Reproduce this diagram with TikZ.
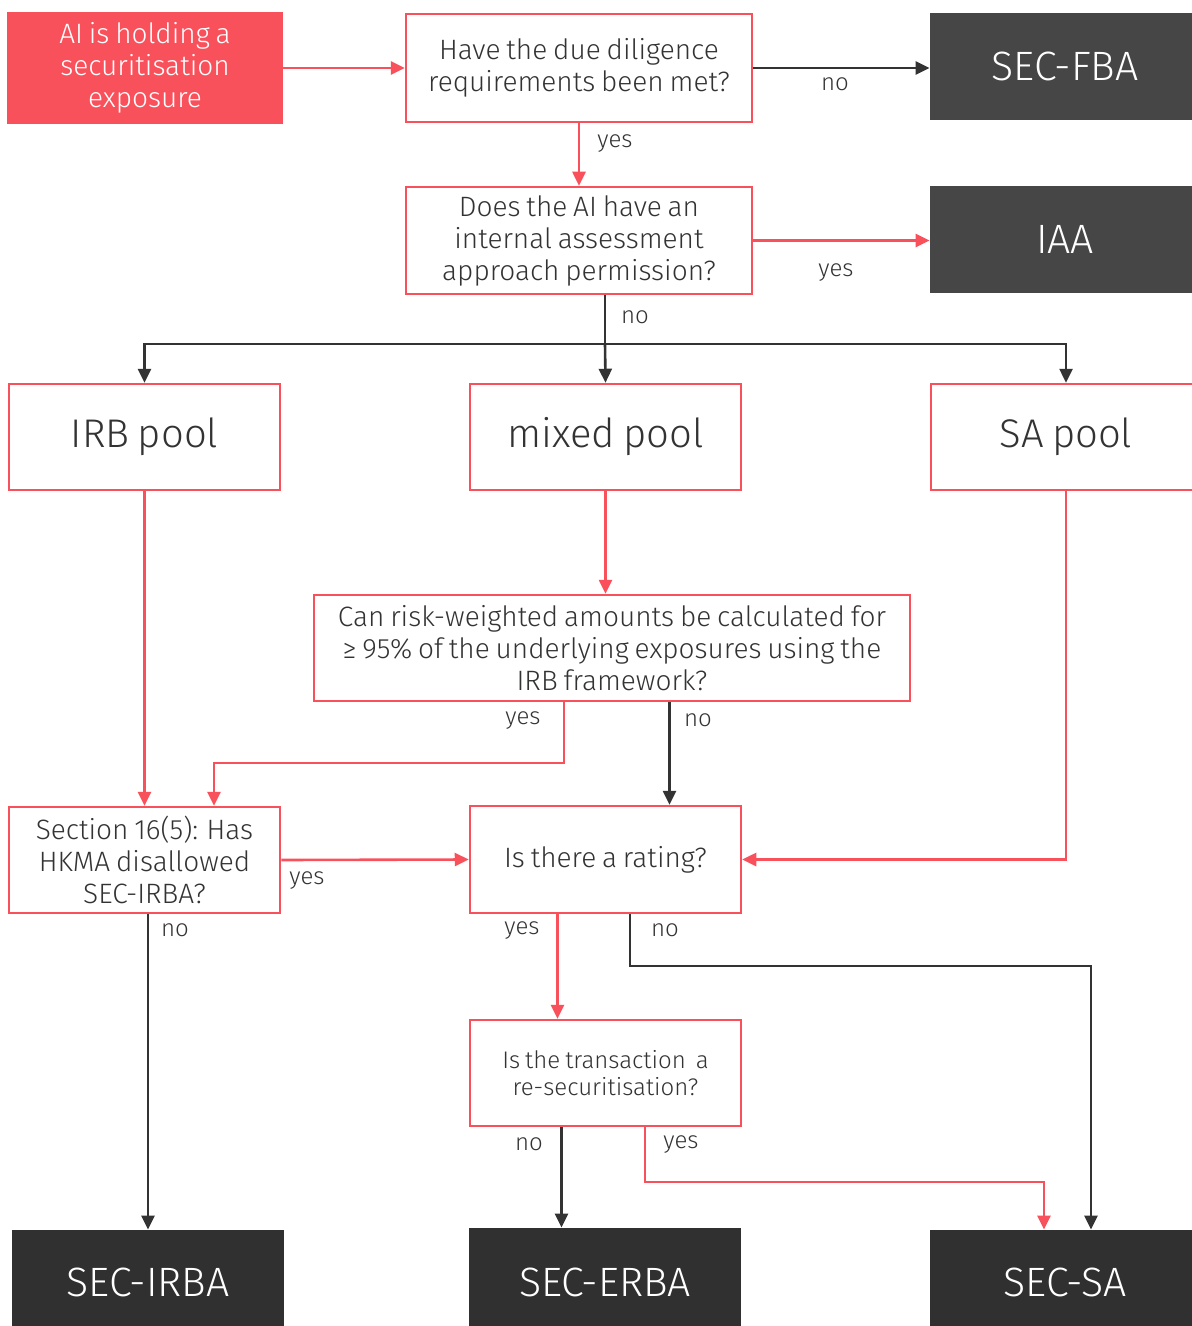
\documentclass[tikz,border=0pt]{standalone}
\usepackage{fontspec}
\setmainfont{Fira Sans}[UprightFont=* Light, WordSpace=0.75]
\usepackage{tikz}
\usetikzlibrary{arrows.meta}
\definecolor{hkred}{HTML}{F9515B}
\definecolor{topgrey}{HTML}{464646}
\definecolor{botgrey}{HTML}{303030}
\definecolor{txtgrey}{HTML}{333333}

\begin{document}
\begin{tikzpicture}[x=0.5pt,y=-0.5pt,
  qbox/.style={draw=hkred, line width=1.25pt, fill=white, text=txtgrey, align=center,
    inner sep=0pt, font=\fontsize{14}{16}\selectfont},
  poolbox/.style={qbox, font=\fontsize{20}{24}\selectfont},
  endbox/.style={fill=#1, text=white, align=center, inner sep=0pt,
    font=\fontsize{20.5}{24}\selectfont},
  lbl/.style={text=txtgrey, font=\fontsize{12}{14}\selectfont, inner sep=0pt},
  redline/.style={draw=hkred, line width=1.3pt, -{Triangle[length=7pt,width=6.5pt]}},
  blackline/.style={draw=txtgrey, line width=1.3pt, -{Triangle[length=7pt,width=6.5pt]}},
  plainblack/.style={draw=txtgrey, line width=1.3pt}]
\useasboundingbox (0,0) rectangle (1192,1326);

% Top row
\node[fill=hkred, text=white, align=center, inner sep=0pt, minimum width=138pt, minimum height=56pt,
  font=\fontsize{14}{16}\selectfont] (start) at (145,68) {AI is holding a\\securitisation\\exposure};
\node[qbox, minimum width=173pt, minimum height=54pt] (diligence) at (579,68)
  {Have the due diligence\\requirements been met?};
\node[endbox=topgrey, minimum width=135pt, minimum height=53.5pt] (secfba) at (1065,66.5) {SEC-FBA};

% IAA question
\node[qbox, minimum width=173pt, minimum height=53.5pt] (iaaperm) at (579,240.5)
  {Does the AI have an\\internal assessment\\approach permission?};
\node[endbox=topgrey, minimum width=135pt, minimum height=53.5pt] (iaa) at (1065,239.5) {IAA};

% Pools
\node[poolbox, minimum width=135.5pt, minimum height=53pt] (irbpool) at (144.5,437) {IRB pool};
\node[poolbox, minimum width=135.5pt, minimum height=53pt] (mixedpool) at (605.5,437) {mixed pool};
\node[poolbox, minimum width=135pt, minimum height=53pt] (sapool) at (1066,437) {SA pool};

% Mixed pool question
\node[qbox, minimum width=298pt, minimum height=53pt] (irbcalc) at (612,648)
  {Can risk-weighted amounts be calculated for\\≥ 95\% of the underlying exposures using the\\IRB framework?};

% Middle row
\node[qbox, minimum width=135.5pt, minimum height=53pt] (section) at (144.5,860)
  {Section 16(5): Has\\HKMA disallowed\\SEC-IRBA?};
\node[qbox, minimum width=135.5pt, minimum height=53.5pt] (rating) at (605.5,859.5) {Is there a rating?};
\node[qbox, minimum width=135.5pt, minimum height=53pt, font=\fontsize{12}{13.5}\selectfont] (resec) at (605.5,1073)
  {Is the transaction~ a\\re-securitisation?};

% Results
\node[endbox=botgrey, minimum width=136pt, minimum height=52pt] (secirba) at (148,1282) {SEC-IRBA};
\node[endbox=botgrey, minimum width=136pt, minimum height=54pt] (secerba) at (605,1282) {SEC-ERBA};
\node[endbox=botgrey, minimum width=135pt, minimum height=52pt] (secsa) at (1065,1282) {SEC-SA};

% Connectors
\coordinate (split) at (605,344);
\coordinate (yesbend) at (564,763);
\coordinate (nobend) at (630,966);
\coordinate (resecbend) at (645,1182);

\draw[redline] (start.east) -- (diligence.west);
\draw[blackline] (diligence.east) -- (diligence.east -| secfba.west);
\draw[redline] (diligence.south) -- (iaaperm.north);
\draw[redline] (iaaperm.east) -- (iaaperm.east -| iaa.west);

\draw[plainblack] (iaaperm.south -| split) -- (split);
\draw[blackline] (split) -- (mixedpool.north);
\draw[blackline] (split) -| (irbpool.north);
\draw[blackline] (split) -| (sapool.north);

\draw[redline] (mixedpool.south) -- (mixedpool.south |- irbcalc.north);
\draw[redline] (irbpool.south) -- (section.north -| irbpool.south);
\draw[redline] (irbcalc.south -| yesbend) -- (yesbend) -| ([xshift=34.75pt]section.north);
\draw[blackline] ([xshift=32pt]rating.north |- irbcalc.south) -- ([xshift=32pt]rating.north);
\draw[redline] (section.east) -- (rating.west);
\draw[redline] (sapool.south) |- (rating.east);

\draw[blackline] (section.south -| secirba.north) -- (secirba.north);
\draw[redline] ([xshift=-24pt]rating.south) -- ([xshift=-24pt]rating.south |- resec.north);
\draw[blackline] (rating.south -| nobend) -- (nobend) -| ([xshift=13pt]secsa.north);
\draw[blackline] ([xshift=-22pt]resec.south) -- ([xshift=-22pt]resec.south |- secerba.north);
\draw[redline] (resec.south -| resecbend) -- (resecbend) -| ([xshift=-10.5pt]secsa.north);

% Labels
\node[lbl] (l1) at (835,84) {no};
\node[lbl] (l2) at (615,144) {yes};
\node[lbl] (l3) at (836,273) {yes};
\node[lbl] (l4) at (635,317) {no};
\node[lbl] (l5) at (523,721) {yes};
\node[lbl] (l6) at (698,720) {no};
\node[lbl] (l7) at (307,881) {yes};
\node[lbl] (l8) at (175,930) {no};
\node[lbl] (l9) at (522,931) {yes};
\node[lbl] (l10) at (665,930) {no};
\node[lbl] (l11) at (529,1144) {no};
\node[lbl] (l12) at (681,1145) {yes};
\end{tikzpicture}
\end{document}
